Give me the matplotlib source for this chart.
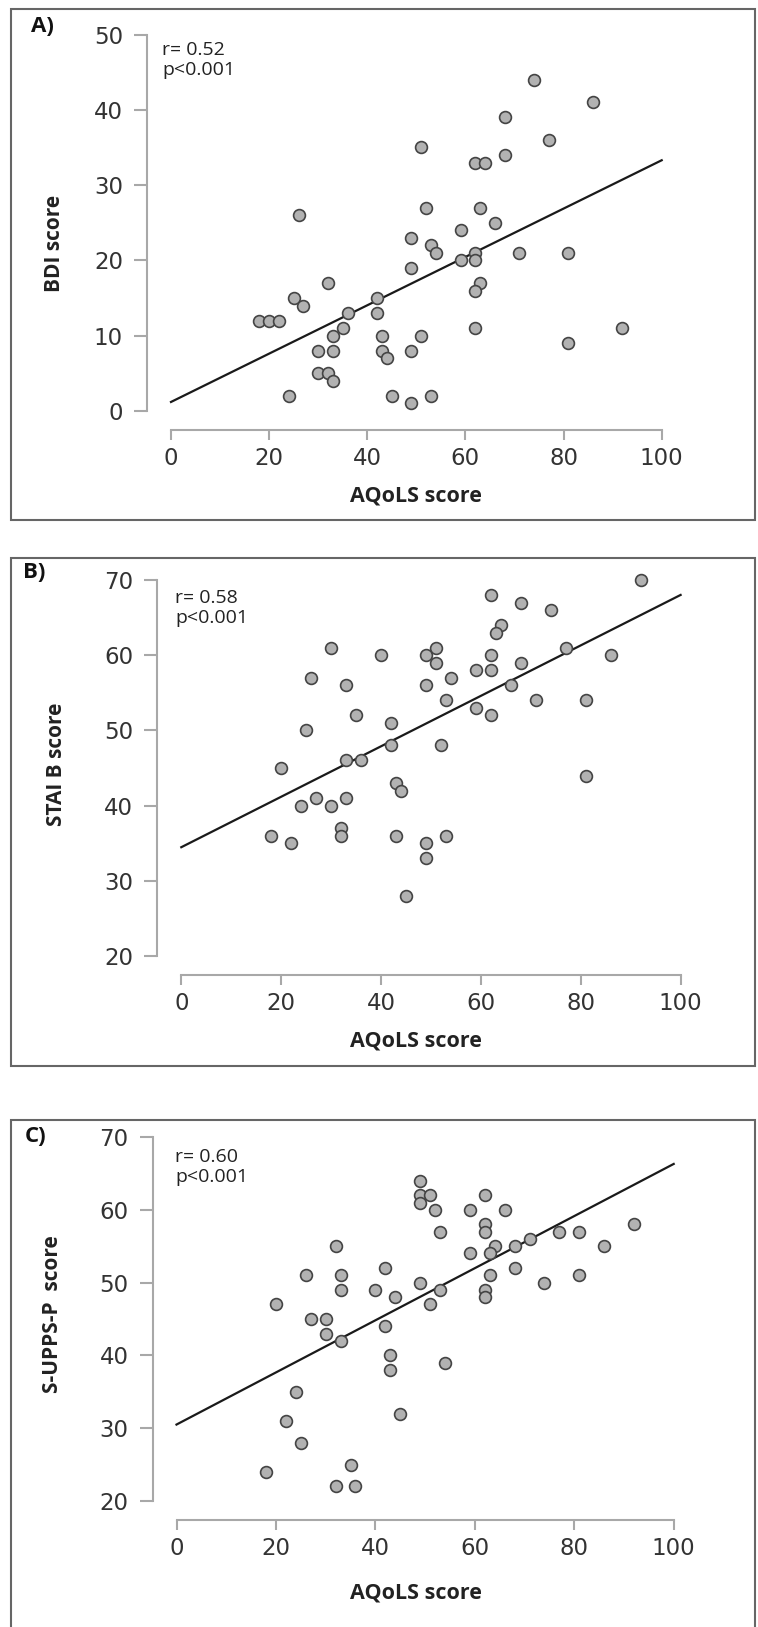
import numpy as np
import matplotlib
matplotlib.use("Agg")
import matplotlib.pyplot as plt
from matplotlib.patches import Rectangle

# AQoLS score (x) against three outcome scores

# A) BDI
aqols_a = [74, 86, 68, 77, 51, 68, 62, 64, 26, 52, 63, 66, 59, 49, 53, 54, 62, 71, 81, 59,
           62, 49, 32, 63, 62, 25, 42, 27, 42, 36, 18, 20, 22, 35, 62, 92, 33, 43, 51, 30,
           33, 43, 49, 44, 81, 30, 32, 33, 24, 45, 53, 49]
bdi = [44, 41, 39, 36, 35, 34, 33, 33, 26, 27, 27, 25, 24, 23, 22, 21, 21, 21, 21, 20,
       20, 19, 17, 17, 16, 15, 15, 14, 13, 13, 12, 12, 12, 11, 11, 11, 10, 10, 10, 8,
       8, 8, 8, 7, 9, 5, 5, 4, 2, 2, 2, 1]
fit_a = (1.2, 0.321)  # intercept, slope

# B) STAI B
aqols_b = [92, 62, 68, 74, 64, 63, 30, 51, 77, 40, 49, 62, 86, 51, 68, 59, 62, 26, 54, 33,
           49, 66, 53, 71, 81, 59, 35, 62, 42, 25, 42, 52, 33, 36, 20, 81, 43, 44, 27, 33,
           24, 30, 32, 32, 18, 43, 53, 22, 49, 49, 45]
stai = [70, 68, 67, 66, 64, 63, 61, 61, 61, 60, 60, 60, 60, 59, 59, 58, 58, 57, 57, 56,
        56, 56, 54, 54, 54, 53, 52, 52, 51, 50, 48, 48, 46, 46, 45, 44, 43, 42, 41, 41,
        40, 40, 37, 36, 36, 36, 36, 35, 35, 33, 28]
fit_b = (34.45, 0.336)

# C) S-UPPS-P
aqols_c = [49, 49, 51, 49, 62, 52, 59, 66, 62, 92, 53, 62, 77, 81, 71, 32, 64, 68, 86, 59,
           63, 42, 68, 26, 33, 63, 81, 49, 74, 33, 40, 53, 62, 44, 62, 20, 51, 27, 30, 30,
           42, 33, 43, 54, 43, 24, 22, 45, 25, 35, 18, 32, 36]
upps = [64, 62, 62, 61, 62, 60, 60, 60, 58, 58, 57, 57, 57, 57, 56, 55, 55, 55, 55, 54,
        54, 52, 52, 51, 51, 51, 51, 50, 50, 49, 49, 49, 49, 48, 48, 47, 47, 45, 45, 43,
        44, 42, 40, 39, 38, 35, 31, 32, 28, 25, 24, 22, 22]
fit_c = (30.5, 0.358)

W, H = 758, 1627
PT = 0.72  # points per pixel at dpi 100

fig = plt.figure(figsize=(W / 100, H / 100), dpi=100)


def fx(x):
    return x / W


def fy(y):
    return 1 - y / H


def px_axes(x0, x1, ytop, ybot):
    return fig.add_axes([fx(x0), fy(ybot), (x1 - x0) / W, (ybot - ytop) / H])


def box(x0, y0, x1, y1):
    r = Rectangle((fx(x0), fy(y1)), (x1 - x0) / W, (y1 - y0) / H,
                  transform=fig.transFigure, fill=False, edgecolor="#666666", lw=1.5)
    fig.patches.append(r)


def panel(ax, x, y, fit, ylim, yticks, ylabel, r_val, letter, pos):
    ax.plot(x, y, "o", ms=8.5, mfc="#b2b2b2", mec="#444444", mew=1.2, clip_on=False, zorder=3)
    xx = np.array([0, 100])
    ax.plot(xx, fit[0] + fit[1] * xx, color="#1a1a1a", lw=1.6, clip_on=False, zorder=2)
    ax.set_xlim(0, 100)
    ax.set_ylim(*ylim)
    ax.set_xticks([0, 20, 40, 60, 80, 100])
    ax.set_yticks(yticks)
    for s in ["top", "right"]:
        ax.spines[s].set_visible(False)
    ax.spines["left"].set_position(("outward", 24 * PT))
    ax.spines["bottom"].set_position(("outward", 19 * PT))
    ax.spines["left"].set_bounds(ylim[0], ylim[1])
    ax.spines["bottom"].set_bounds(0, 100)
    for s in ["left", "bottom"]:
        ax.spines[s].set_color("#a8a8a8")
        ax.spines[s].set_linewidth(1.5)
    ax.tick_params(axis="y", length=13 * PT, width=1.5, color="#a8a8a8", pad=8,
                   labelsize=16.5, labelcolor="#333333")
    ax.tick_params(axis="x", length=10 * PT, width=1.5, color="#a8a8a8", pad=5,
                   labelsize=16.5, labelcolor="#333333")
    for lab in ax.get_xticklabels() + ax.get_yticklabels():
        lab.set_family("DejaVu Sans")
    ax.patch.set_visible(False)

    ax.set_xlabel("AQoLS score", fontsize=15.5, fontweight="bold", family="Open Sans",
                  color="#222222", va="center")
    ax.xaxis.set_label_coords(fx(pos["xlab"][0]), fy(pos["xlab"][1]), transform=fig.transFigure)
    ax.set_ylabel(ylabel, fontsize=15, fontweight="bold", family="Open Sans",
                  color="#222222", va="center")
    ax.yaxis.set_label_coords(fx(pos["ylab"][0]), fy(pos["ylab"][1]), transform=fig.transFigure)

    rx, ry = pos["r"]
    fig.text(fx(rx), fy(ry), "r= " + r_val, fontsize=14, family="Open Sans",
             color="#222222", va="center", ha="left")
    fig.text(fx(rx), fy(ry + 20), "p<0.001", fontsize=14, family="Open Sans",
             color="#222222", va="center", ha="left")
    lx, ly = pos["letter"]
    fig.text(fx(lx), fy(ly), letter, fontsize=16, fontweight="bold", family="Open Sans",
             va="center", ha="left", color="#111111")
    return ax


# panel A
box(11, 9, 755, 520)
ax_a = px_axes(171, 661.7, 34.5, 411)
panel(ax_a, aqols_a, bdi, fit_a, (0, 50), [0, 10, 20, 30, 40, 50], "BDI score", "0.52", "A)",
      {"xlab": (416, 496), "ylab": (54, 243), "r": (162, 50), "letter": (31, 26)})

# panel B
box(11, 558, 755, 1066)
ax_b = px_axes(181.3, 680.6, 580.3, 955.7)
panel(ax_b, aqols_b, stai, fit_b, (20, 70), [20, 30, 40, 50, 60, 70], "STAI B score", "0.58", "B)",
      {"xlab": (416, 1041), "ylab": (56, 764), "r": (175, 598), "letter": (23, 572)})

# panel C
box(11, 1120, 755, 1660)
ax_c = px_axes(176.5, 673.7, 1137, 1501)
panel(ax_c, aqols_c, upps, fit_c, (20, 70), [20, 30, 40, 50, 60, 70], "S-UPPS-P  score", "0.60", "C)",
      {"xlab": (416, 1593), "ylab": (53, 1314), "r": (175, 1157), "letter": (25, 1137)})

fig.savefig("out.png", dpi=100)
